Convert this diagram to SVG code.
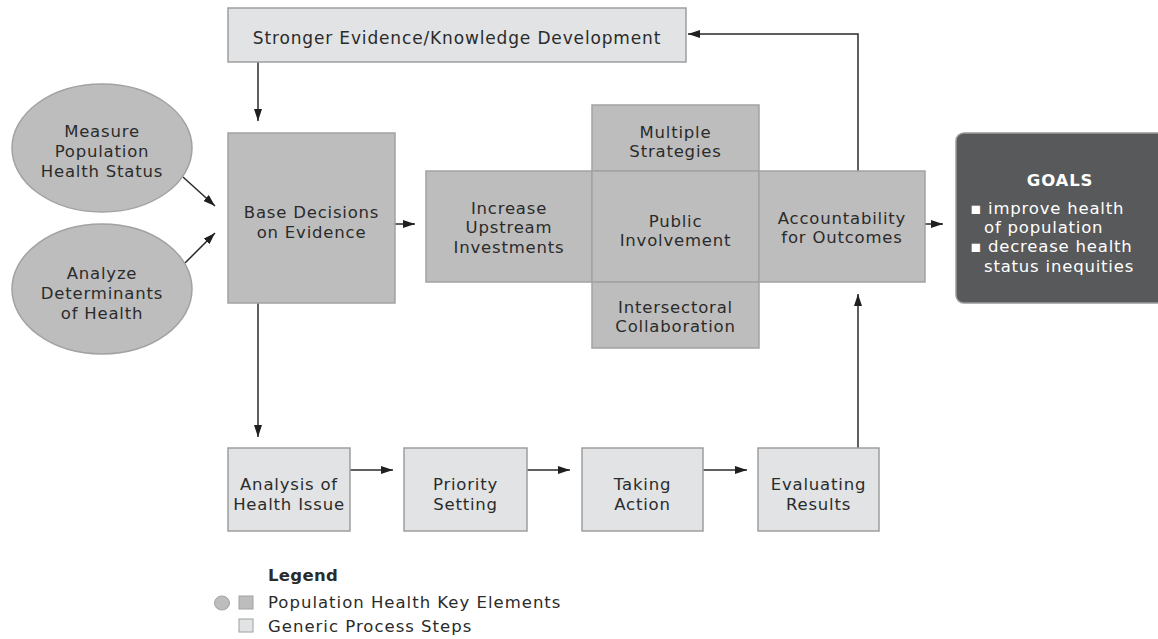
<svg xmlns="http://www.w3.org/2000/svg" width="1158" height="639" viewBox="0 0 1158 639">
  <style>
    .key { fill: #bdbdbd; stroke: #a2a2a2; stroke-width: 1.5; }
    .step { fill: #e1e3e4; stroke: #9e9e9e; stroke-width: 1.5; }
    .goal { fill: #58595b; stroke: #9a9a9a; stroke-width: 1.5; }
    .lbl { font-family: "DejaVu Sans", "Liberation Sans", sans-serif; font-size: 16.5px; letter-spacing: 0.8px; fill: #2b2b2b; text-anchor: middle; }
    .glbl { font-family: "DejaVu Sans", "Liberation Sans", sans-serif; font-size: 16.5px; letter-spacing: 0.8px; fill: #ffffff; }
    .leg { font-family: "DejaVu Sans", "Liberation Sans", sans-serif; font-size: 16.5px; letter-spacing: 1px; fill: #2b2b2b; }
    .conn { fill: none; stroke: #2a2a2a; stroke-width: 1.5; marker-end: url(#arrow); }
  </style>
  <defs>
    <marker id="arrow" markerUnits="userSpaceOnUse" markerWidth="13" markerHeight="8" refX="12" refY="4" orient="auto">
      <path d="M0,0 L12,4 L0,8 z" fill="#1f1f1f"/>
    </marker>
  </defs>

  <rect width="1158" height="639" fill="#ffffff"/>

  <!-- connectors -->
  <g id="connectors">
    <path class="conn" d="M258,62 V121"/>
    <path class="conn" d="M183,177 L215,206"/>
    <path class="conn" d="M185,263 L215,233"/>
    <path class="conn" d="M395,224 H415"/>
    <path class="conn" d="M925,224 H943"/>
    <path class="conn" d="M258,303 V437"/>
    <path class="conn" d="M350,470 H393"/>
    <path class="conn" d="M527,470 H570"/>
    <path class="conn" d="M703,470 H747"/>
    <path class="conn" d="M858,448 V294"/>
    <path class="conn" d="M858,171 V34 H688"/>
  </g>

  <!-- knowledge feedback -->
  <g id="stronger-evidence">
    <rect class="step" x="228" y="8" width="458" height="54"/>
    <text class="lbl" x="457" y="44" style="font-size:17px;letter-spacing:0.85px">Stronger Evidence/Knowledge Development</text>
  </g>

  <!-- inputs -->
  <g id="measure-status">
    <ellipse class="key" cx="102" cy="148" rx="90" ry="64"/>
    <text class="lbl" x="102" y="137">Measure</text>
    <text class="lbl" x="102" y="157">Population</text>
    <text class="lbl" x="102" y="177">Health Status</text>
  </g>
  <g id="analyze-determinants">
    <ellipse class="key" cx="102" cy="289" rx="90" ry="65"/>
    <text class="lbl" x="102" y="279">Analyze</text>
    <text class="lbl" x="102" y="299">Determinants</text>
    <text class="lbl" x="102" y="319">of Health</text>
  </g>

  <g id="base-decisions">
    <rect class="key" x="228" y="133" width="167" height="170"/>
    <text class="lbl" x="311.5" y="218">Base Decisions</text>
    <text class="lbl" x="311.5" y="238">on Evidence</text>
  </g>

  <!-- cross of key elements -->
  <g id="upstream-investments">
    <rect class="key" x="426" y="171" width="166" height="111"/>
    <text class="lbl" x="509" y="214">Increase</text>
    <text class="lbl" x="509" y="233">Upstream</text>
    <text class="lbl" x="509" y="253">Investments</text>
  </g>
  <g id="multiple-strategies">
    <rect class="key" x="592" y="105" width="167" height="66"/>
    <text class="lbl" x="675.5" y="138">Multiple</text>
    <text class="lbl" x="675.5" y="157">Strategies</text>
  </g>
  <g id="public-involvement">
    <rect class="key" x="592" y="171" width="167" height="111"/>
    <text class="lbl" x="675.5" y="227">Public</text>
    <text class="lbl" x="675.5" y="246">Involvement</text>
  </g>
  <g id="intersectoral">
    <rect class="key" x="592" y="282" width="167" height="66"/>
    <text class="lbl" x="675.5" y="313">Intersectoral</text>
    <text class="lbl" x="675.5" y="332">Collaboration</text>
  </g>
  <g id="accountability">
    <rect class="key" x="759" y="171" width="166" height="111"/>
    <text class="lbl" x="842" y="224">Accountability</text>
    <text class="lbl" x="842" y="243">for Outcomes</text>
  </g>

  <!-- goals -->
  <g id="goals">
    <rect class="goal" x="956" y="133" width="220" height="170" rx="8" ry="8"/>
    <text class="glbl" x="1060" y="186" text-anchor="middle" font-weight="bold">GOALS</text>
    <text class="glbl" x="970" y="214">▪ improve health</text>
    <text class="glbl" x="984" y="233">of population</text>
    <text class="glbl" x="970" y="252">▪ decrease health</text>
    <text class="glbl" x="984" y="272">status inequities</text>
  </g>

  <!-- generic process steps -->
  <g id="analysis">
    <rect class="step" x="228" y="448" width="122" height="83"/>
    <text class="lbl" x="289" y="490">Analysis of</text>
    <text class="lbl" x="289" y="510">Health Issue</text>
  </g>
  <g id="priority">
    <rect class="step" x="404" y="448" width="123" height="83"/>
    <text class="lbl" x="465.5" y="490">Priority</text>
    <text class="lbl" x="465.5" y="510">Setting</text>
  </g>
  <g id="taking-action">
    <rect class="step" x="582" y="448" width="121" height="83"/>
    <text class="lbl" x="642.5" y="490">Taking</text>
    <text class="lbl" x="642.5" y="510">Action</text>
  </g>
  <g id="evaluating">
    <rect class="step" x="758" y="448" width="121" height="83"/>
    <text class="lbl" x="818.5" y="490">Evaluating</text>
    <text class="lbl" x="818.5" y="510">Results</text>
  </g>

  <!-- legend -->
  <g id="legend">
    <text class="leg" x="268" y="581" font-weight="bold" style="letter-spacing:0.3px">Legend</text>
    <ellipse class="key" cx="222" cy="603" rx="7.5" ry="7" style="stroke-width:1"/>
    <rect class="key" x="239" y="596" width="14" height="13" style="stroke-width:1"/>
    <text class="leg" x="268" y="608">Population Health Key Elements</text>
    <rect class="step" x="239" y="619" width="14" height="13" style="stroke-width:1"/>
    <text class="leg" x="268" y="632">Generic Process Steps</text>
  </g>
</svg>
